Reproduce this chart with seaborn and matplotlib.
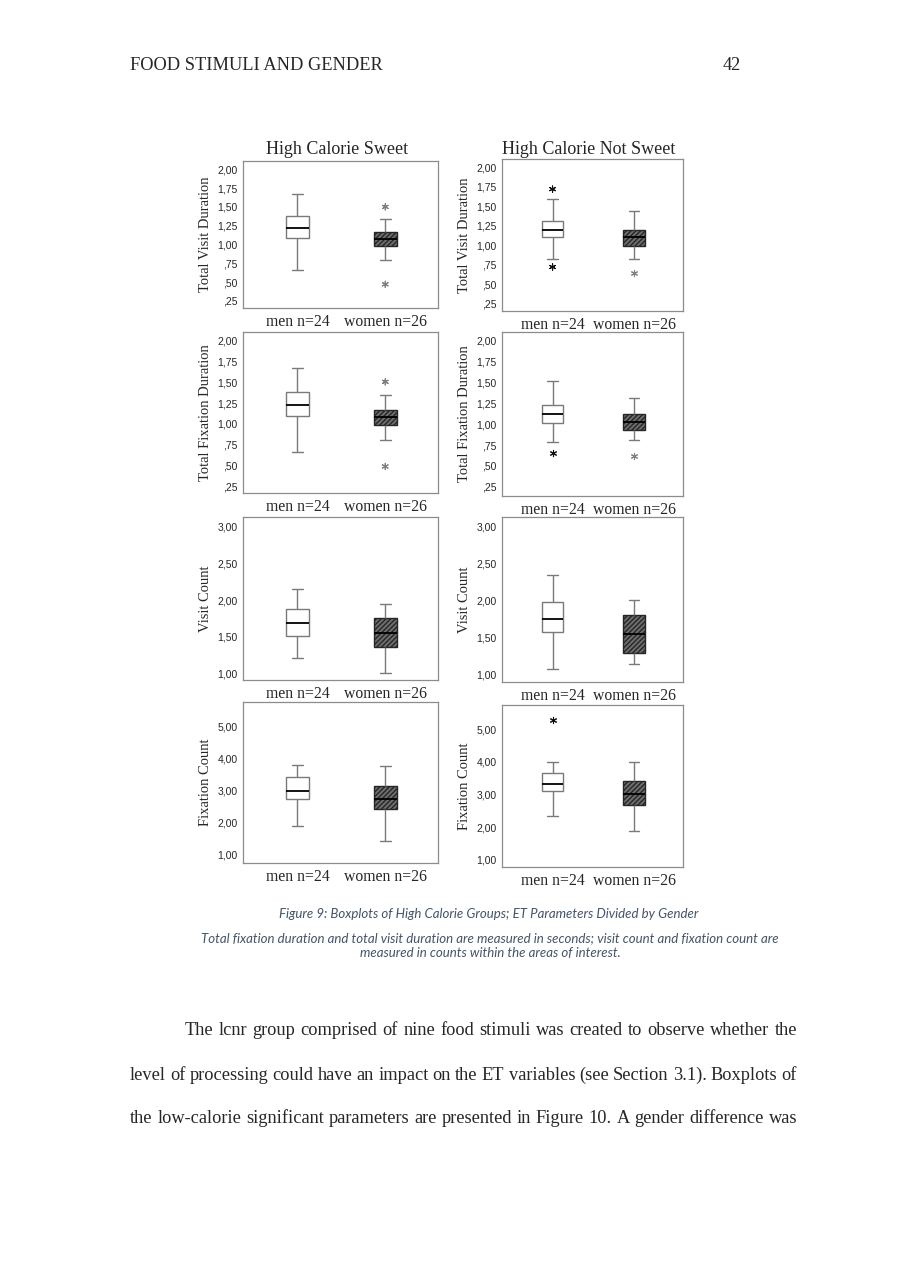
import numpy as np
import pandas as pd
import matplotlib
matplotlib.use('Agg')
from matplotlib import pyplot as plt
import seaborn as sns

W, H = 906, 1280

groups = ['men n=24', 'women n=26']
columns = ['High Calorie Sweet', 'High Calorie Not Sweet']
measures = ['Total Visit Duration', 'Total Fixation Duration', 'Visit Count', 'Fixation Count']

# five-number summaries: [low whisker, Q1, median, Q3, high whisker]
hcs_tvd_men = [0.66, 1.085, 1.215, 1.378, 1.676]
hcs_tvd_women = [0.792, 0.979, 1.072, 1.161, 1.338]
hcns_tvd_men = [0.82, 1.10, 1.20, 1.31, 1.59]
hcns_tvd_women = [0.823, 0.996, 1.10, 1.198, 1.435]

hcs_tfd_men = [0.666, 1.099, 1.223, 1.379, 1.676]
hcs_tfd_women = [0.807, 0.987, 1.085, 1.171, 1.343]
hcns_tfd_men = [0.787, 1.019, 1.127, 1.227, 1.515]
hcns_tfd_women = [0.807, 0.927, 1.027, 1.119, 1.315]

hcs_vc_men = [1.214, 1.509, 1.682, 1.877, 2.159]
hcs_vc_women = [1.009, 1.355, 1.545, 1.75, 1.945]
hcns_vc_men = [1.068, 1.572, 1.743, 1.977, 2.347]
hcns_vc_women = [1.14, 1.288, 1.55, 1.806, 2.009]

hcs_fc_men = [1.89, 2.72, 2.99, 3.408, 3.80]
hcs_fc_women = [1.43, 2.42, 2.73, 3.15, 3.75]
hcns_fc_men = [2.354, 3.10, 3.33, 3.656, 4.0]
hcns_fc_women = [1.87, 2.67, 3.01, 3.41, 4.0]

# extreme values (SPSS stars)
hcs_tvd_out = ([], [1.50, 0.47])
hcns_tvd_out = ([1.72, 0.72], [0.64])
hcs_tfd_out = ([], [1.507, 0.486])
hcns_tfd_out = ([0.65], [0.614])
hcs_vc_out = ([], [])
hcns_vc_out = ([], [])
hcs_fc_out = ([], [])
hcns_fc_out = ([5.287], [])

duration_ticks = [0.25, 0.5, 0.75, 1.0, 1.25, 1.5, 1.75, 2.0]
visit_ticks = [1.0, 1.5, 2.0, 2.5, 3.0]
fixation_ticks = [1.0, 2.0, 3.0, 4.0, 5.0]

# (measure row, column, men, women, outliers, ticks, ylim, frame box in pixels l, t, r, b)
panels = [
    (0, 0, hcs_tvd_men, hcs_tvd_women, hcs_tvd_out, duration_ticks, (0.155, 2.11), (243, 161, 438, 308)),
    (0, 1, hcns_tvd_men, hcns_tvd_women, hcns_tvd_out, duration_ticks, (0.155, 2.107), (502, 159, 683, 311)),
    (1, 0, hcs_tfd_men, hcs_tfd_women, hcs_tfd_out, duration_ticks, (0.166, 2.108), (243, 332, 438, 493)),
    (1, 1, hcns_tfd_men, hcns_tfd_women, hcns_tfd_out, duration_ticks, (0.138, 2.108), (502, 332, 683, 496)),
    (2, 0, hcs_vc_men, hcs_vc_women, hcs_vc_out, visit_ticks, (0.909, 3.136), (243, 517, 438, 680)),
    (2, 1, hcns_vc_men, hcns_vc_women, hcns_vc_out, visit_ticks, (0.896, 3.126), (502, 517, 683, 682)),
    (3, 0, hcs_fc_men, hcs_fc_women, hcs_fc_out, fixation_ticks, (0.74, 5.75), (243, 702, 438, 863)),
    (3, 1, hcns_fc_men, hcns_fc_women, hcns_fc_out, fixation_ticks, (0.774, 5.75), (502, 705, 683, 867)),
]


def spss_label(v):
    s = f'{v:.2f}'.replace('.', ',')
    return s[1:] if s.startswith('0') else s


sns.set_style('white')
plt.rcParams['font.family'] = ['Liberation Serif', 'DejaVu Serif']
plt.rcParams['hatch.linewidth'] = 1.0

fig = plt.figure(figsize=(W / 100, H / 100), dpi=100)
fig.patch.set_facecolor('white')

for row, col, men, women, outs, ticks, ylim, box in panels:
    l, t, r, b = box
    ax = fig.add_axes([l / W, 1 - b / H, (r - l) / W, (b - t) / H])
    df = pd.DataFrame({'group': [groups[0]] * len(men) + [groups[1]] * len(women),
                       'value': men + women})
    sns.boxplot(data=df, x='group', y='value', order=groups, whis=(0, 100), width=0.26,
                color='white', linecolor='#7a7a7a', linewidth=1.0, fliersize=0, ax=ax,
                medianprops=dict(color='black', linewidth=1.3))
    wbox = ax.patches[1]
    wbox.set_facecolor('#6e6e6e')
    wbox.set_edgecolor('#262626')
    wbox.set_hatch('///////')

    out_df = pd.DataFrame({'group': [groups[0]] * len(outs[0]) + [groups[1]] * len(outs[1]),
                           'value': outs[0] + outs[1]})
    if len(out_df):
        sns.stripplot(data=out_df, x='group', y='value', hue='group', order=groups,
                      hue_order=groups, palette={groups[0]: '#111111', groups[1]: '#808080'},
                      jitter=False, marker=(6, 2, 0), size=4.5, linewidth=0.8, legend=False, ax=ax)

    ax.set_xlim(-0.62, 1.6)
    ax.set_ylim(*ylim)
    ax.set_yticks(ticks)
    ax.set_yticklabels([spss_label(v) for v in ticks], family='Liberation Sans', fontsize=7.5)
    ax.set_xticks([0, 1])
    ax.set_xticklabels(groups, fontsize=11.3)
    ax.tick_params(axis='both', direction='out', length=3, width=0.8, color='#777777', pad=1.5)
    ax.tick_params(axis='y', pad=1)
    ax.set_xlabel('')
    ax.set_ylabel(measures[row], fontsize=10.5, labelpad=4)
    for s in ax.spines.values():
        s.set_visible(True)
        s.set_color('#8c8c8c')
        s.set_linewidth(0.9)


def px(x, y):
    return x / W, 1 - y / H


fig.text(*px(337, 149), columns[0], ha='center', va='center', fontsize=13)
fig.text(*px(589, 149), columns[1], ha='center', va='center', fontsize=13)

# page header
fig.text(*px(130, 70), 'FOOD STIMULI AND GENDER', ha='left', va='baseline', fontsize=13.2)
fig.text(*px(741, 70), '42', ha='right', va='baseline', fontsize=13.2)

# caption
cap_color = '#44546a'
cap_kw = dict(ha='center', va='center', fontsize=9.5, style='italic', family='Lato', color=cap_color)
fig.text(*px(489, 914), 'Figure 9: Boxplots of High Calorie Groups; ET Parameters Divided by Gender', **cap_kw)
fig.text(*px(490, 938), 'Total fixation duration and total visit duration are measured in seconds; '
         'visit count and fixation count are', **cap_kw)
fig.text(*px(490, 953), 'measured in counts within the areas of interest.', **cap_kw)

# body text, justified (y is the baseline)
body = [
    (185, 1035, 'The lcnr group comprised of nine food stimuli was created to observe whether the'),
    (130, 1080, 'level of processing could have an impact on the ET variables (see Section 3.1). Boxplots of'),
    (130, 1123, 'the low-calorie significant parameters are presented in Figure 10. A gender difference was'),
]
renderer = fig.canvas.get_renderer()
for x0, y, line in body:
    words = line.split(' ')
    texts = [fig.text(0, 0, w, fontsize=13.2, va='baseline', ha='left') for w in words]
    widths = [tx.get_window_extent(renderer).width for tx in texts]
    gap = (797 - x0 - sum(widths)) / (len(words) - 1)
    x = x0
    for tx, w in zip(texts, widths):
        tx.set_position(px(x, y))
        x += w + gap

fig.savefig('out.png', dpi=100, facecolor='white')
